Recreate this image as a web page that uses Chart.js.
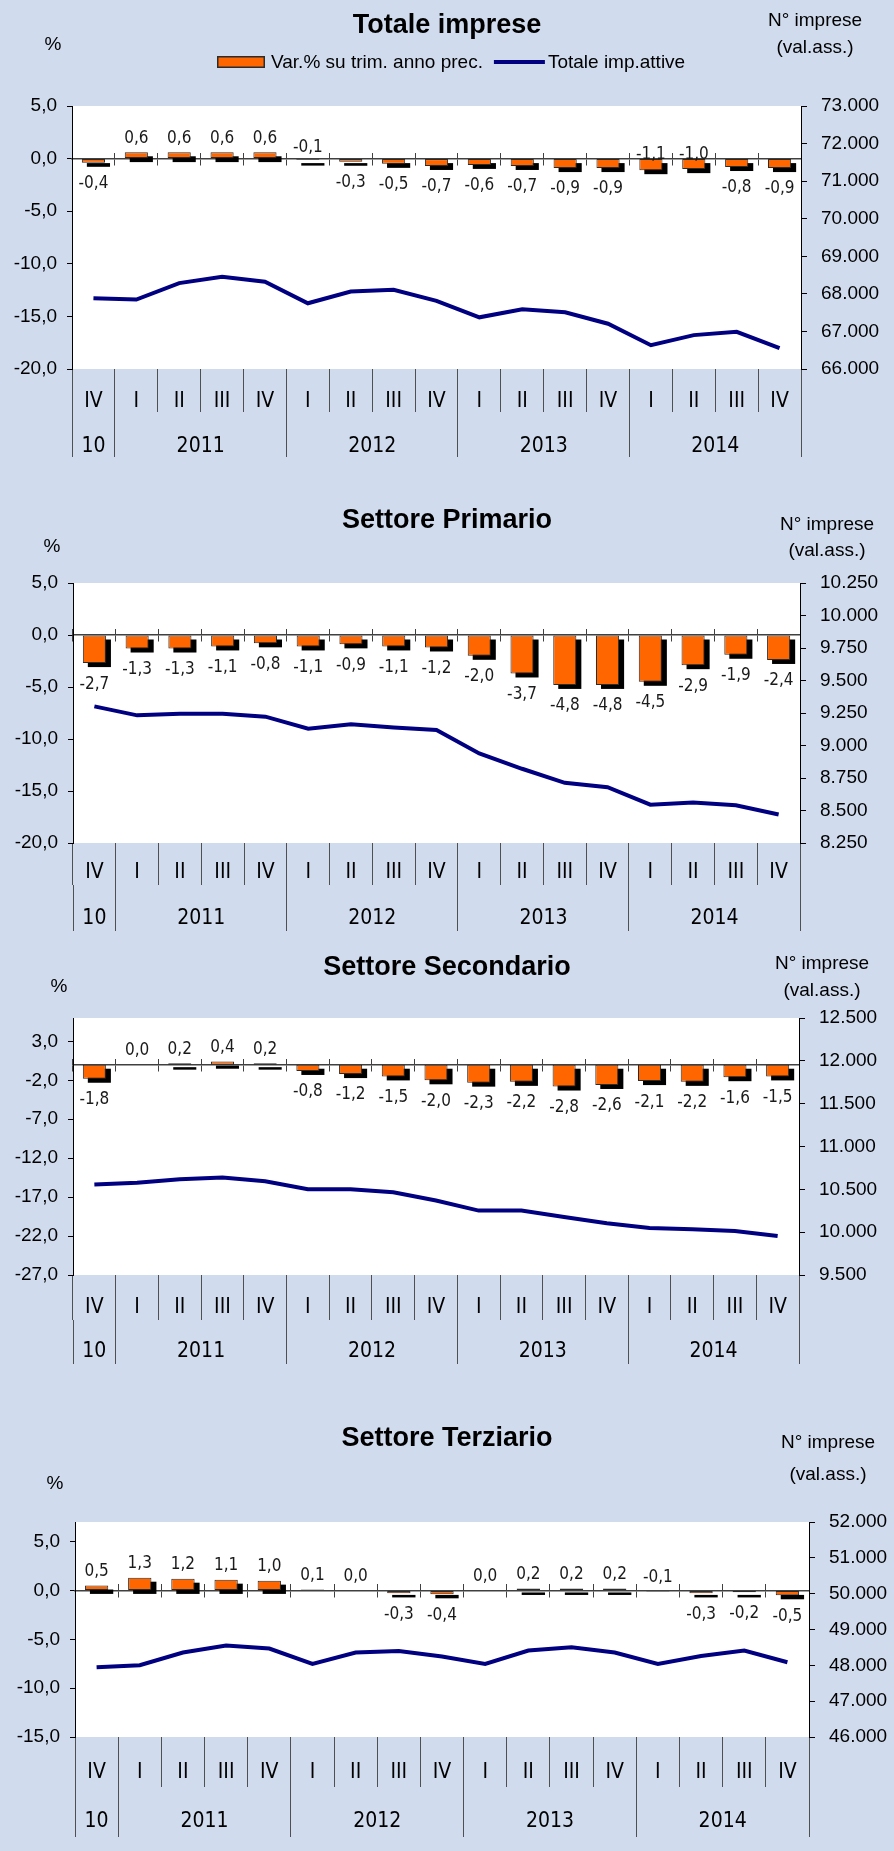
<!DOCTYPE html>
<html>
<head>
<meta charset="utf-8">
<title>Imprese attive per trimestre</title>
<script src="https://cdn.jsdelivr.net/npm/chart.js@4.4.1/dist/chart.umd.min.js"></script>
<style>
  html, body { margin: 0; padding: 0; background: #D0DCEE; }
  body { width: 894px; height: 1851px; overflow: hidden; }
  canvas { display: block; }
</style>
</head>
<body>
<canvas id="chTot" width="894" height="480"></canvas>
<canvas id="chPrim" width="894" height="460"></canvas>
<canvas id="chSec" width="894" height="460"></canvas>
<canvas id="chTer" width="894" height="451"></canvas>
<script>
// categories
const quarters = ['IV', 'I', 'II', 'III', 'IV', 'I', 'II', 'III', 'IV', 'I', 'II', 'III', 'IV', 'I', 'II', 'III', 'IV'];
const years = ['10', '2011', '2012', '2013', '2014'];

const barLabel = 'Var.% su trim. anno prec.';
const lineLabel = 'Totale imp.attive';
const unitLeft = '%';
const unitRight = ['N° imprese', '(val.ass.)'];

// Totale imprese
const totVar = [-0.4, 0.6, 0.6, 0.6, 0.6, -0.1, -0.3, -0.5, -0.7, -0.6, -0.7, -0.9, -0.9, -1.1, -1.0, -0.8, -0.9];
const totActive = [67884, 67848, 68286, 68455, 68321, 67750, 68063, 68107, 67813, 67375, 67589, 67509, 67205, 66634, 66902, 66991, 66554];
const totLeftTicks = [-20, -15, -10, -5, 0, 5];
const totRightTicks = [66000, 67000, 68000, 69000, 70000, 71000, 72000, 73000];

// Settore primario
const primVar = [-2.7, -1.3, -1.3, -1.1, -0.8, -1.1, -0.9, -1.1, -1.2, -2.0, -3.7, -4.8, -4.8, -4.5, -2.9, -1.9, -2.4];
const primActive = [9301, 9232, 9245, 9245, 9222, 9129, 9163, 9139, 9119, 8939, 8821, 8713, 8679, 8545, 8561, 8540, 8469];
const primLeftTicks = [-20, -15, -10, -5, 0, 5];
const primRightTicks = [8250, 8500, 8750, 9000, 9250, 9500, 9750, 10000, 10250];

// Settore secondario
const secVar = [-1.8, 0.0, 0.2, 0.4, 0.2, -0.8, -1.2, -1.5, -2.0, -2.3, -2.2, -2.8, -2.6, -2.1, -2.2, -1.6, -1.5];
const secActive = [10556, 10576, 10618, 10638, 10595, 10502, 10502, 10466, 10369, 10252, 10252, 10178, 10104, 10049, 10034, 10014, 9956];
const secLeftTicks = [-27, -22, -17, -12, -7, -2, 3];
const secRightTicks = [9500, 10000, 10500, 11000, 11500, 12000, 12500];

// Settore terziario
const terVar = [0.5, 1.3, 1.2, 1.1, 1.0, 0.1, 0.0, -0.3, -0.4, 0.0, 0.2, 0.2, 0.2, -0.1, -0.3, -0.2, -0.5];
const terActive = [47948, 48004, 48356, 48551, 48468, 48041, 48356, 48403, 48245, 48041, 48412, 48505, 48356, 48041, 48263, 48412, 48087];
const terLeftTicks = [-15, -10, -5, 0, 5];
const terRightTicks = [46000, 47000, 48000, 49000, 50000, 51000, 52000];

const BG = '#D0DCEE';
const ORANGE = '#FF6600';
const NAVY = '#000080';
const SEP = '#505050';
const SANS = "'Liberation Sans', Arial, sans-serif";
const NARROW = "'Liberation Sans Narrow', 'Arial Narrow', 'DejaVu Sans Condensed', sans-serif";

const fmtPct = v => v.toFixed(1).replace('.', ',');
const fmtInt = v => String(Math.round(v)).replace(/\B(?=(\d{3})+(?!\d))/g, '.');

// year groups: a new year starts at every quarter "I"
const yearBounds = [-0.5];
quarters.forEach((q, i) => { if (q === 'I' && i > 0) yearBounds.push(i - 0.5); });
yearBounds.push(quarters.length - 0.5);
const yearCenters = years.map((y, i) => (yearBounds[i] + yearBounds[i + 1]) / 2);
const yearTicks = yearBounds.concat(yearCenters).sort((a, b) => a - b);

// plot background
const backdrop = {
  id: 'backdrop',
  beforeDraw(chart) {
    const {ctx, chartArea: a} = chart;
    ctx.save();
    ctx.fillStyle = BG;
    ctx.fillRect(0, 0, chart.width, chart.height);
    ctx.fillStyle = '#fff';
    ctx.fillRect(a.left, a.top, a.right - a.left, a.bottom - a.top);
    ctx.restore();
  }
};

// black drop shadow behind every bar, taken from the bar elements
const barShadow = {
  id: 'barShadow',
  beforeDatasetDraw(chart, args) {
    if (args.meta.type !== 'bar') return;
    const ctx = chart.ctx;
    ctx.save();
    ctx.fillStyle = '#000';
    args.meta.data.forEach(bar => {
      const {x, y, base, width} = bar.getProps(['x', 'y', 'base', 'width'], true);
      const top = Math.min(y, base);
      const h = Math.abs(base - y);
      if (h < 0.5) return;
      ctx.fillRect(x - width / 2 + 5, top + 4, width, Math.max(h, 2.5));
    });
    ctx.restore();
  }
};

// value labels on the bars
const barValues = {
  id: 'barValues',
  afterDatasetsDraw(chart, args, opts) {
    const meta = chart.getDatasetMeta(0);
    const values = chart.data.datasets[0].data;
    const raise = opts.raise || {};
    const ctx = chart.ctx;
    ctx.save();
    ctx.font = '17px ' + NARROW;
    ctx.fillStyle = '#1a1a1a';
    ctx.textAlign = 'center';
    ctx.textBaseline = 'middle';
    meta.data.forEach((bar, i) => {
      const v = values[i];
      let y;
      if (raise[i] !== undefined) y = bar.base - raise[i];
      else if (v >= 0) y = bar.y - 14;
      else y = bar.y + 21;
      ctx.fillText(fmtPct(v), bar.x, y);
    });
    ctx.restore();
  }
};

// unit captions and (first chart only) the legend
const decor = {
  id: 'decor',
  afterDraw(chart, args, opts) {
    const ctx = chart.ctx;
    ctx.save();
    ctx.fillStyle = '#000';
    ctx.font = '19px ' + SANS;
    ctx.textBaseline = 'middle';
    ctx.textAlign = 'center';
    ctx.fillText(unitLeft, opts.pct[0], opts.pct[1]);
    ctx.fillText(unitRight[0], opts.units[0], opts.units[1]);
    ctx.fillText(unitRight[1], opts.units[0], opts.units[2]);

    if (opts.legend) {
      let x = opts.legend[0];
      const y = opts.legend[1];
      ctx.textAlign = 'left';
      chart.data.datasets.forEach(ds => {
        if (ds.type === 'bar') {
          ctx.fillStyle = ds.borderColor;
          ctx.fillRect(x, y - 6, 48, 12);
          ctx.fillStyle = ds.backgroundColor;
          ctx.fillRect(x + 1.5, y - 4.5, 45, 9);
          x += 54;
        } else {
          ctx.strokeStyle = ds.borderColor;
          ctx.lineWidth = 4;
          ctx.beginPath();
          ctx.moveTo(x, y);
          ctx.lineTo(x + 51, y);
          ctx.stroke();
          x += 54;
        }
        ctx.fillStyle = '#000';
        ctx.fillText(ds.label, x, y + 1);
        x += ctx.measureText(ds.label).width + 11;
      });
    }
    ctx.restore();
  }
};

function makeChart(cfg) {
  const W = 894;
  const qPad = (cfg.qY - cfg.bottom) - cfg.qLen - 12.6;
  const yPad = (cfg.yY - cfg.bottom - cfg.qLen) - cfg.yLen - 12.6;
  const zeroAxis = len => ({
    axis: 'x',
    type: 'category',
    position: {y: 0},
    offset: true,
    grid: {offset: true, drawOnChartArea: false, drawTicks: true, tickLength: len, color: '#404040', lineWidth: 1},
    border: {display: len > 0, color: '#404040', width: 1.5},
    ticks: {display: false}
  });

  return new Chart(document.getElementById(cfg.id), {
    type: 'bar',
    data: {
      labels: quarters,
      datasets: [
        {
          type: 'bar',
          label: barLabel,
          data: cfg.bars,
          xAxisID: 'x',
          yAxisID: 'y',
          order: 1,
          backgroundColor: ORANGE,
          borderColor: '#2b2b2b',
          borderWidth: 1,
          borderSkipped: false,
          barPercentage: 0.54,
          categoryPercentage: 1
        },
        {
          type: 'line',
          label: lineLabel,
          data: cfg.line,
          xAxisID: 'x',
          yAxisID: 'y1',
          order: 0,
          borderColor: NAVY,
          backgroundColor: NAVY,
          borderWidth: 4,
          pointRadius: 0,
          tension: 0,
          fill: false
        }
      ]
    },
    options: {
      responsive: false,
      animation: false,
      events: [],
      layout: {padding: 0},
      plugins: {
        legend: {display: false},
        tooltip: {enabled: false},
        title: {
          display: true,
          text: cfg.title,
          color: '#000',
          font: {family: SANS, size: 27, weight: 'bold', lineHeight: 1.2},
          padding: {top: cfg.titleY - 16.2, bottom: cfg.top - cfg.titleY - 16.2}
        },
        barValues: {raise: cfg.raise},
        decor: {pct: cfg.pct, units: cfg.units, legend: cfg.legend}
      },
      scales: {
        x: {
          type: 'category',
          position: 'bottom',
          weight: 0,
          offset: true,
          grid: {offset: true, drawOnChartArea: false, drawTicks: true, tickLength: cfg.qLen, color: SEP, lineWidth: 1},
          border: {display: false},
          ticks: {autoSkip: false, maxRotation: 0, padding: qPad, color: '#000', font: {family: NARROW, size: 21}},
          afterFit: s => { s.height = cfg.qLen; }
        },
        xYears: {
          axis: 'x',
          type: 'linear',
          position: 'bottom',
          weight: 1,
          offset: false,
          min: yearBounds[0],
          max: yearBounds[yearBounds.length - 1],
          afterBuildTicks: s => { s.ticks = yearTicks.map(v => ({value: v})); },
          grid: {
            offset: false,
            drawOnChartArea: false,
            drawTicks: true,
            tickLength: cfg.yLen,
            lineWidth: 1,
            color: c => (c.tick && yearBounds.includes(c.tick.value)) ? SEP : 'rgba(0,0,0,0)'
          },
          border: {display: false},
          ticks: {
            autoSkip: false,
            maxRotation: 0,
            padding: yPad,
            color: '#000',
            font: {family: NARROW, size: 21},
            callback: v => { const k = yearCenters.indexOf(v); return k >= 0 ? years[k] : ''; }
          },
          afterFit: s => { s.height = cfg.h - cfg.bottom - cfg.qLen; }
        },
        xZeroDown: zeroAxis(6),
        xZeroUp: zeroAxis(-6),
        y: {
          type: 'linear',
          position: 'left',
          min: cfg.leftTicks[0],
          max: cfg.leftMax,
          afterBuildTicks: s => { s.ticks = cfg.leftTicks.map(v => ({value: v})); },
          grid: {drawOnChartArea: false, drawTicks: true, tickLength: 5, color: '#000'},
          border: {display: true, color: '#000', width: 1},
          ticks: {padding: 10, color: '#000', font: {family: SANS, size: 19}, callback: v => fmtPct(v)},
          afterFit: s => { s.width = cfg.left; }
        },
        y1: {
          type: 'linear',
          position: 'right',
          min: cfg.rightTicks[0],
          max: cfg.rightTicks[cfg.rightTicks.length - 1],
          afterBuildTicks: s => { s.ticks = cfg.rightTicks.map(v => ({value: v})); },
          grid: {drawOnChartArea: false, drawTicks: true, tickLength: 6, color: '#000'},
          border: {display: true, color: '#000', width: 1},
          ticks: {padding: 14, color: '#000', font: {family: SANS, size: 19}, callback: v => fmtInt(v)},
          afterFit: s => { s.width = W - cfg.right; }
        }
      }
    },
    plugins: [backdrop, barShadow, barValues, decor]
  });
}

makeChart({
  id: 'chTot', title: 'Totale imprese', bars: totVar, line: totActive,
  leftTicks: totLeftTicks, leftMax: 5, rightTicks: totRightTicks,
  h: 480, top: 106, bottom: 369, left: 72, right: 801,
  titleY: 26, qLen: 43, qY: 402, yLen: 45, yY: 447,
  pct: [53, 45], units: [815, 21, 48], legend: [217, 62],
  raise: {5: 12, 13: 5, 14: 5}
});

makeChart({
  id: 'chPrim', title: 'Settore Primario', bars: primVar, line: primActive,
  leftTicks: primLeftTicks, leftMax: 5, rightTicks: primRightTicks,
  h: 460, top: 103, bottom: 363, left: 73, right: 800,
  titleY: 41, qLen: 42, qY: 393, yLen: 46, yY: 439,
  pct: [52, 67], units: [827, 45, 71]
});

makeChart({
  id: 'chSec', title: 'Settore Secondario', bars: secVar, line: secActive,
  leftTicks: secLeftTicks, leftMax: 6, rightTicks: secRightTicks,
  h: 460, top: 78, bottom: 335, left: 73, right: 799,
  titleY: 28, qLen: 45, qY: 368, yLen: 44, yY: 412,
  pct: [59, 47], units: [822, 24, 51]
});

makeChart({
  id: 'chTer', title: 'Settore Terziario', bars: terVar, line: terActive,
  leftTicks: terLeftTicks, leftMax: 7, rightTicks: terRightTicks,
  h: 451, top: 122, bottom: 337, left: 75, right: 809,
  titleY: 39, qLen: 50, qY: 373, yLen: 50, yY: 422,
  pct: [55, 84], units: [828, 43, 75],
  raise: {13: 13}
});
</script>
</body>
</html>
